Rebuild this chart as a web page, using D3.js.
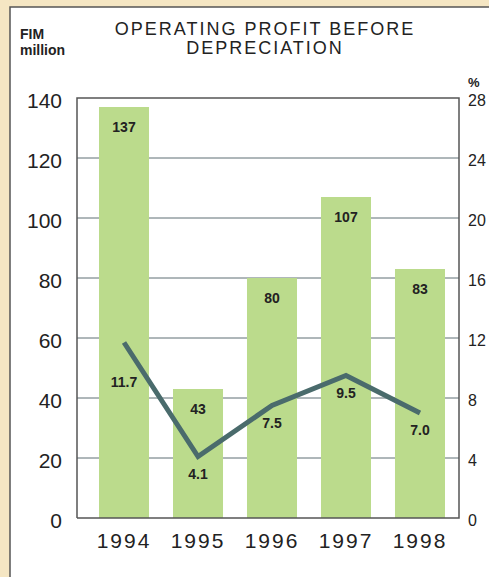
<!DOCTYPE html>
<html><head><meta charset="utf-8">
<script src="https://cdn.jsdelivr.net/npm/d3@7"></script>
<style>
html,body{margin:0;padding:0;background:#f5e6c3;}
svg{display:block;}
text{font-family:"Liberation Sans",Arial,sans-serif;}
</style></head>
<body>
<svg id="c" width="489" height="577"></svg>
<script>
const years = ["1994","1995","1996","1997","1998"];
const profit = [137, 43, 80, 107, 83];
const profitLabels = ["137","43","80","107","83"];
const margin = [11.7, 4.1, 7.5, 9.5, 7.0];
const marginLabels = ["11.7","4.1","7.5","9.5","7.0"];
const leftTicks = [0,20,40,60,80,100,120,140];
const rightTicks = [0,4,8,12,16,20,24,28];
const titleLines = ["OPERATING PROFIT BEFORE","DEPRECIATION"];
const unitLines = ["FIM","million"];

const svg = d3.select("#c");
// panel
svg.append("rect").attr("x",10).attr("y",7).attr("width",500).attr("height",600)
  .attr("fill","#fff").attr("stroke","#555").attr("stroke-width",1.5);

const L=77, R=459, T=98, B=518;
const x = d3.scaleBand().domain(years).range([99,445]).paddingInner(0.324).paddingOuter(0);
const y = d3.scaleLinear().domain([0,140]).range([B,T]);
const y2 = d3.scaleLinear().domain([0,28]).range([B,T]);

// gridlines
svg.append("g").selectAll("line").data(leftTicks.filter(d=>d>0&&d<140)).join("line")
  .attr("x1",L).attr("x2",R).attr("y1",d=>y(d)).attr("y2",d=>y(d))
  .attr("stroke","#5f6f74").attr("stroke-width",1);

// bars
svg.append("g").selectAll("rect").data(profit).join("rect")
  .attr("x",(d,i)=>x(years[i])).attr("width",x.bandwidth())
  .attr("y",d=>y(d)).attr("height",d=>B-y(d)).attr("fill","#bbdb8c");

// frame
svg.append("path").attr("d",`M${L},${B}V${T}H${R}V${B}H${L}`).attr("fill","none")
  .attr("stroke","#555").attr("stroke-width",1.5);

// axes
const la = svg.append("g").attr("transform",`translate(${L},2)`)
  .call(d3.axisLeft(y).tickValues(leftTicks).tickSize(0).tickPadding(15));
const ra = svg.append("g").attr("transform",`translate(${R},2)`)
  .call(d3.axisRight(y2).tickValues(rightTicks).tickSize(0).tickPadding(9));
const xa = svg.append("g").attr("transform",`translate(0,${B})`)
  .call(d3.axisBottom(x).tickSize(0).tickPadding(15));
[la,ra,xa].forEach(g=>{g.select(".domain").remove();});
la.selectAll("text").attr("font-size",21).attr("fill","#222").attr("font-family","Liberation Sans, Arial").attr("dy","0.36em");
ra.selectAll("text").attr("font-size",16).attr("fill","#222").attr("font-family","Liberation Sans, Arial").attr("dy","0.36em");
xa.selectAll("text").attr("font-size",21).attr("fill","#222").attr("letter-spacing",2).attr("font-family","Liberation Sans, Arial").attr("dy","0.71em");

// line
const line = d3.line().x((d,i)=>x(years[i])+x.bandwidth()/2).y(d=>y2(d));
svg.append("path").datum(margin).attr("d",line).attr("fill","none")
  .attr("stroke","#4a6b6c").attr("stroke-width",5).attr("stroke-linejoin","miter");

// bar labels
svg.append("g").selectAll("text").data(profit).join("text")
  .attr("x",(d,i)=>x(years[i])+x.bandwidth()/2).attr("y",d=>y(d)+25)
  .attr("text-anchor","middle").attr("font-size",14).attr("font-weight","bold").attr("fill","#222")
  .text((d,i)=>profitLabels[i]);

// line labels
svg.append("g").selectAll("text").data(margin).join("text")
  .attr("x",(d,i)=>x(years[i])+x.bandwidth()/2).attr("y",(d,i)=>y2(d)+(i===0?44:22))
  .attr("text-anchor","middle").attr("font-size",14).attr("font-weight","bold").attr("fill","#222")
  .text((d,i)=>marginLabels[i]);

// title
svg.append("g").selectAll("text").data(titleLines).join("text")
  .attr("x",265).attr("y",(d,i)=>35+i*19).attr("text-anchor","middle")
  .attr("font-size",18).attr("letter-spacing",2).attr("fill","#222").text(d=>d);

// unit
svg.append("g").selectAll("text").data(unitLines).join("text")
  .attr("x",20).attr("y",(d,i)=>39+i*16).attr("font-size",14).attr("font-weight","bold").attr("fill","#222").text(d=>d);
svg.append("text").attr("x",468).attr("y",87).attr("font-size",13).attr("font-weight","bold").attr("fill","#222").text("%");
</script>
</body></html>
